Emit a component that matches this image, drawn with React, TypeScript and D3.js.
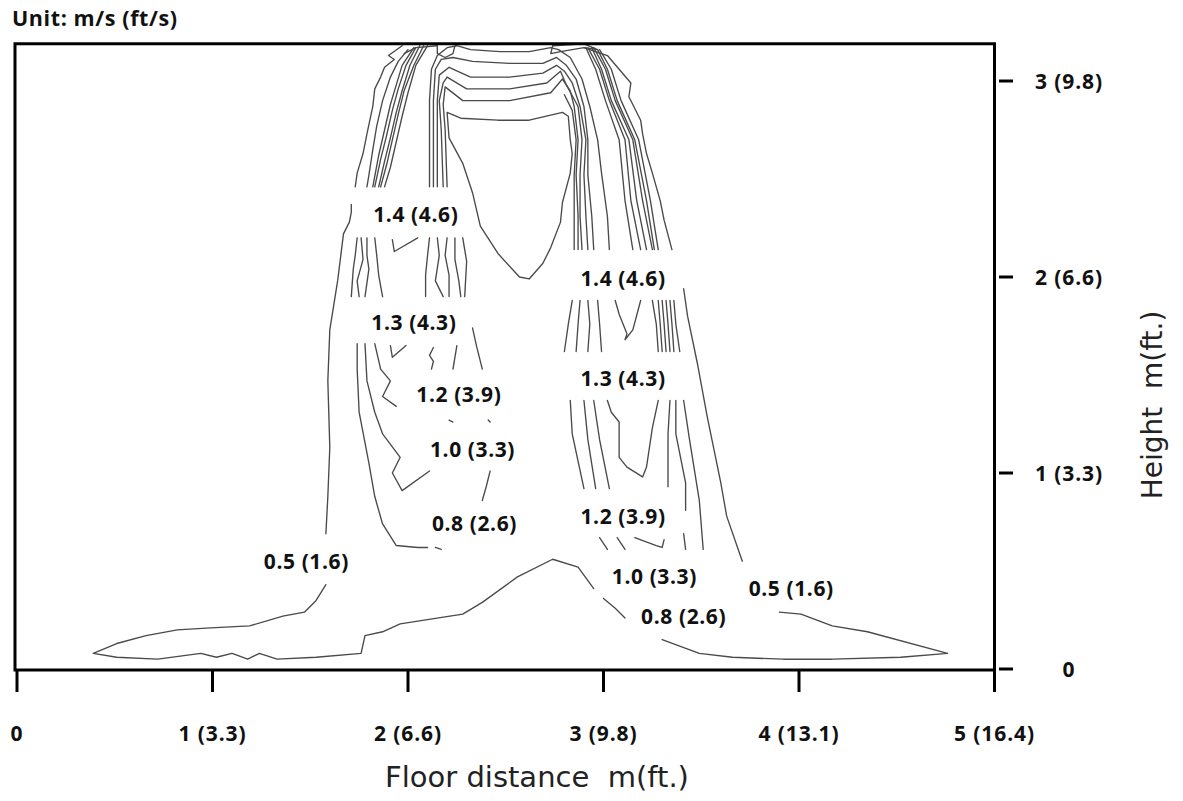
import React from 'react';
import * as d3 from 'd3';

type Pt = [number, number];
type Seg = Pt[];

// Axis ticks (floor distance m (ft), height m (ft))
const xTickValues = [0, 1, 2, 3, 4, 5];
const xTickLabels = ['0', '1 (3.3)', '2 (6.6)', '3 (9.8)', '4 (13.1)', '5 (16.4)'];
const yTickValues = [0, 1, 2, 3];
const yTickLabels = ['0', '1 (3.3)', '2 (6.6)', '3 (9.8)'];
const roomHeight = 3.19;

// Contour labels: velocity m/s (ft/s) at [x m, y m]
const contourLabels: { text: string; x: number; y: number }[] = [
  { text: '1.4 (4.6)', x: 2.04, y: 2.32 },
  { text: '1.4 (4.6)', x: 3.10, y: 1.99 },
  { text: '1.3 (4.3)', x: 2.03, y: 1.77 },
  { text: '1.3 (4.3)', x: 3.10, y: 1.48 },
  { text: '1.2 (3.9)', x: 2.26, y: 1.40 },
  { text: '1.2 (3.9)', x: 3.10, y: 0.78 },
  { text: '1.0 (3.3)', x: 2.33, y: 1.12 },
  { text: '1.0 (3.3)', x: 3.26, y: 0.47 },
  { text: '0.8 (2.6)', x: 2.34, y: 0.74 },
  { text: '0.8 (2.6)', x: 3.41, y: 0.27 },
  { text: '0.5 (1.6)', x: 1.48, y: 0.55 },
  { text: '0.5 (1.6)', x: 3.96, y: 0.41 },
];

// 0.5 m/s envelope
const outerContour: Seg[] = [
  [[1.97,3.18],[1.90,3.13],[1.93,3.11],[1.88,3.07],[1.86,3.02],[1.83,2.96],[1.82,2.87],[1.79,2.73],[1.77,2.63],[1.74,2.53],[1.73,2.46]],
  [[1.71,2.37],[1.71,2.33],[1.70,2.28],[1.67,2.22],[1.64,1.98],[1.60,1.73],[1.59,1.47],[1.60,1.13],[1.59,0.88],[1.58,0.69]],
  [[1.58,0.43],[1.53,0.35],[1.47,0.29],[1.36,0.27],[1.19,0.22],[0.99,0.21],[0.82,0.20],[0.66,0.17],[0.51,0.13],[0.39,0.08],[0.51,0.06],[0.72,0.05],[0.94,0.08],[1.02,0.06],[1.10,0.08],[1.18,0.05],[1.24,0.08],[1.33,0.05],[1.53,0.06],[1.76,0.08],[1.78,0.17],[1.87,0.19],[1.96,0.23],[2.28,0.28],[2.38,0.34],[2.56,0.47],[2.74,0.56],[2.87,0.52],[2.95,0.41]],
  [[3.00,0.36],[3.06,0.31],[3.11,0.26]],
  [[3.30,0.15],[3.49,0.08],[3.66,0.06],[3.92,0.05],[4.17,0.05],[4.52,0.06],[4.76,0.08],[4.35,0.19],[4.17,0.22],[4.01,0.28],[3.90,0.29]],
  [[3.71,0.55],[3.63,0.78],[3.60,0.95],[3.53,1.29],[3.48,1.56],[3.43,1.80],[3.41,1.94]],
  [[3.35,2.14],[3.31,2.29],[3.29,2.39],[3.25,2.53],[3.22,2.63],[3.20,2.73],[3.19,2.80],[3.13,2.92],[3.14,2.99],[3.08,3.06],[3.02,3.13],[2.90,3.17]],
];

// Left jet, outer side, upper part
const leftJetUpper: Seg[] = [
  [[2.00,3.16],[1.95,3.10],[1.91,3.02],[1.87,2.90],[1.84,2.77],[1.82,2.65],[1.80,2.52],[1.79,2.46]],
  [[2.03,3.17],[1.97,3.08],[1.94,2.98],[1.91,2.88],[1.88,2.75],[1.85,2.62],[1.82,2.46]],
  [[2.04,3.17],[1.99,3.08],[1.95,2.96],[1.92,2.85],[1.89,2.72],[1.86,2.60],[1.83,2.46]],
  [[2.06,3.18],[2.01,3.08],[1.97,2.95],[1.94,2.84],[1.91,2.71],[1.88,2.59],[1.85,2.46]],
  [[2.08,3.18],[2.03,3.08],[1.98,2.95],[1.95,2.83],[1.92,2.70],[1.89,2.57],[1.86,2.46]],
  [[2.10,3.18],[2.04,3.08],[2.00,2.94],[1.97,2.82],[1.94,2.69],[1.91,2.56],[1.88,2.46]],
];

// Left jet between the 1.4 and 1.3 labels
const leftJetMiddle: Seg[] = [
  [[1.74,2.20],[1.73,2.11],[1.72,2.04],[1.71,1.90]],
  [[1.76,2.20],[1.77,2.09],[1.74,1.98],[1.75,1.90]],
  [[1.79,2.20],[1.79,2.11],[1.80,2.04],[1.78,1.90]],
  [[1.83,2.20],[1.84,2.11],[1.85,2.01],[1.87,1.90]],
  [[1.92,2.19],[1.93,2.13],[2.05,2.20]],
  [[2.11,2.20],[2.10,2.11],[2.09,2.01],[2.09,1.90]],
  [[2.15,2.20],[2.16,2.11],[2.14,1.98],[2.18,1.90]],
  [[2.20,2.20],[2.19,2.11],[2.21,2.01],[2.21,1.90]],
  [[2.24,2.20],[2.24,2.09],[2.26,1.98],[2.27,1.90]],
  [[2.28,2.20],[2.30,2.08],[2.29,1.90]],
];

// Left jet below the 1.3 label
const leftJetLower: Seg[] = [
  [[1.74,1.66],[1.74,1.53],[1.75,1.31],[1.80,1.05],[1.83,0.88],[1.87,0.74],[1.94,0.63],[2.05,0.62],[2.10,0.62]],
  [[2.14,0.62],[2.17,0.61]],
  [[1.78,1.66],[1.79,1.47],[1.83,1.31],[1.87,1.20],[1.96,1.08],[1.92,1.00],[1.97,0.91],[2.11,1.01]],
  [[1.83,1.66],[1.86,1.53],[1.91,1.47],[1.87,1.39],[1.94,1.34]],
  [[1.91,1.65],[1.92,1.59],[1.99,1.65]],
  [[2.13,1.64],[2.11,1.60],[2.13,1.57],[2.12,1.53]],
  [[2.25,1.65],[2.24,1.59],[2.23,1.53]],
  [[2.33,1.74],[2.35,1.65],[2.38,1.53]],
  [[2.21,1.27],[2.23,1.26]],
  [[2.41,1.27],[2.42,1.26]],
  [[2.42,1.01],[2.40,0.93],[2.38,0.86]],
];

// Contours bridging both jets over the central zone
const bridgeContours: Seg[] = [
  [[2.11,2.46],[2.11,2.75],[2.11,2.90],[2.12,3.06],[2.15,3.13],[2.20,3.17],[2.25,3.18],[2.32,3.16],[2.47,3.15],[2.62,3.15],[2.73,3.17],[2.77,3.16],[2.83,3.12],[2.89,3.01],[2.93,2.87],[2.97,2.70],[2.99,2.53],[3.02,2.31],[3.03,2.14]],
  [[2.13,2.46],[2.13,2.75],[2.13,2.90],[2.14,3.06],[2.17,3.11],[2.23,3.12],[2.33,3.10],[2.52,3.09],[2.69,3.09],[2.76,3.12],[2.81,3.08],[2.86,3.01],[2.90,2.87],[2.92,2.70],[2.92,2.52],[2.94,2.31],[2.95,2.14]],
  [[2.15,2.46],[2.15,2.75],[2.15,2.90],[2.16,3.03],[2.21,3.07],[2.32,3.02],[2.52,3.02],[2.69,3.04],[2.76,3.08],[2.80,3.05],[2.84,2.99],[2.88,2.87],[2.91,2.70],[2.90,2.52],[2.91,2.31],[2.92,2.14]],
  [[2.18,2.46],[2.17,2.75],[2.16,2.90],[2.18,2.99],[2.20,3.02],[2.30,2.96],[2.52,2.96],[2.71,2.99],[2.78,3.05],[2.81,2.98],[2.87,2.87],[2.89,2.70],[2.88,2.52],[2.88,2.31],[2.89,2.14]],
  [[2.20,2.46],[2.19,2.75],[2.18,2.88],[2.19,2.97],[2.28,2.90],[2.52,2.90],[2.73,2.94],[2.79,3.01],[2.83,2.95],[2.85,2.87],[2.87,2.70],[2.86,2.52],[2.87,2.31],[2.87,2.14]],
  [[2.80,2.93],[2.84,2.85],[2.86,2.70],[2.85,2.52],[2.85,2.31],[2.85,2.14]],
];

// Right jet, inner side below the 1.4 label
const rightJetInner: Seg[] = [
  [[2.97,1.88],[2.98,1.76],[2.99,1.62]],
  [[2.92,1.88],[2.93,1.76],[2.92,1.62]],
  [[2.88,1.88],[2.87,1.76],[2.86,1.62]],
  [[2.84,1.88],[2.82,1.76],[2.80,1.62]],
  [[2.95,1.37],[2.98,1.17],[3.03,0.92]],
  [[2.90,1.37],[2.92,1.17],[2.96,0.92]],
  [[2.83,1.37],[2.84,1.20],[2.90,0.92]],
  [[3.06,1.88],[3.08,1.81],[3.12,1.71],[3.11,1.68],[3.15,1.73],[3.19,1.88]],
  [[3.02,1.37],[3.04,1.31],[3.08,1.26],[3.08,1.17],[3.08,1.08],[3.12,1.03],[3.20,0.98],[3.22,1.03],[3.25,1.23],[3.28,1.37]],
];

// Right jet, outer side
const rightJetOuter: Seg[] = [
  [[2.91,3.17],[2.96,3.06],[3.01,2.90],[3.08,2.70],[3.11,2.39],[3.15,2.14]],
  [[2.92,3.17],[2.98,3.06],[3.03,2.90],[3.11,2.70],[3.14,2.39],[3.19,2.14]],
  [[2.94,3.17],[2.99,3.06],[3.04,2.90],[3.13,2.70],[3.17,2.39],[3.22,2.14]],
  [[2.95,3.17],[3.01,3.06],[3.06,2.90],[3.15,2.70],[3.20,2.39],[3.25,2.14]],
  [[2.97,3.16],[3.02,3.06],[3.07,2.90],[3.16,2.70],[3.22,2.39],[3.26,2.14]],
  [[2.98,3.16],[3.04,3.06],[3.09,2.90],[3.18,2.70],[3.24,2.39],[3.28,2.14]],
  [[3.25,1.88],[3.27,1.76],[3.28,1.62]],
  [[3.28,1.88],[3.29,1.76],[3.30,1.62]],
  [[3.30,1.88],[3.31,1.76],[3.32,1.62]],
  [[3.32,1.88],[3.33,1.76],[3.34,1.62]],
  [[3.34,1.88],[3.35,1.76],[3.36,1.62]],
  [[3.36,1.88],[3.37,1.76],[3.39,1.62]],
];

// Right jet lower fragments
const rightJetLower: Seg[] = [
  [[3.34,1.37],[3.33,1.20],[3.33,0.93]],
  [[3.37,1.37],[3.37,1.20],[3.42,0.95],[3.42,0.81]],
  [[3.41,0.69],[3.42,0.61]],
  [[3.41,1.37],[3.44,1.17],[3.49,0.86],[3.51,0.61]],
  [[2.98,0.67],[3.02,0.61]],
  [[3.07,0.67],[3.11,0.61]],
  [[3.16,0.67],[3.27,0.63],[3.30,0.62],[3.31,0.66]],
];

// Central low-velocity core between the jets
const centralCore: Seg[] = [
  [[2.20,2.84],[2.27,2.81],[2.46,2.80],[2.62,2.80],[2.79,2.84],[2.82,2.82],[2.83,2.70],[2.84,2.63],[2.83,2.53],[2.79,2.38],[2.78,2.28],[2.73,2.15],[2.69,2.07],[2.62,1.99],[2.57,2.00],[2.46,2.12],[2.37,2.26],[2.33,2.43],[2.28,2.58],[2.21,2.71],[2.20,2.84]],
];

// Diffuser outlets at the ceiling
const diffusers: Seg[] = [
  [[2.15,3.18],[2.15,3.14],[2.19,3.12],[2.23,3.14],[2.24,3.18]],
  [[1.98,3.14],[2.04,3.17],[2.15,3.18]],
  [[2.73,3.14],[2.74,3.18],[2.90,3.19],[2.97,3.16],[2.90,3.17],[2.78,3.15],[2.73,3.14]],
];

const W = 1183;
const H = 801;
const x = d3.scaleLinear().domain([0, 5]).range([17, 994.5]);
const y = d3.scaleLinear().domain([0, 3]).range([669, 81]);

export default function App() {
  const line = d3.line<Pt>().x((d) => x(d[0])).y((d) => y(d[1]));
  const segments: Seg[] = [
    ...outerContour,
    ...leftJetUpper,
    ...leftJetMiddle,
    ...leftJetLower,
    ...bridgeContours,
    ...rightJetInner,
    ...rightJetOuter,
    ...rightJetLower,
    ...centralCore,
    ...diffusers,
  ];
  const bold = { fontFamily: '"Open Sans", sans-serif', fontWeight: 700 } as const;
  const frameLeft = x(0) - 2;
  const frameRight = x(5);
  const frameTop = y(roomHeight);
  const frameBottom = y(0) + 1;
  return (
    <svg width={W} height={H} style={{ position: 'absolute', left: 0, top: 0, background: '#fff' }}>
      <rect width={W} height={H} fill="#fff" />
      <g>
        {segments.map((s, i) => (
          <path key={i} d={line(s) || ''} fill="none" stroke="#4a4a4a" strokeWidth={1.35} strokeLinejoin="round" strokeLinecap="round" />
        ))}
      </g>
      <g>
        {contourLabels.map((l, i) => (
          <text key={i} x={x(l.x)} y={y(l.y) + 7.5} textAnchor="middle" fontSize={21} letterSpacing={0.6} fill="#111"
            stroke="#fff" strokeWidth={3} paintOrder="stroke" style={bold}>{l.text}</text>
        ))}
      </g>
      <rect x={frameLeft} y={frameTop} width={frameRight - frameLeft} height={frameBottom - frameTop} fill="none" stroke="#000" strokeWidth={3} />
      {xTickValues.map((v, i) => (
        <g key={i}>
          <line x1={x(v)} x2={x(v)} y1={frameBottom} y2={frameBottom + 22} stroke="#000" strokeWidth={3} />
          <text x={x(v)} y={741} textAnchor="middle" fontSize={21} letterSpacing={0.9} fill="#111" style={bold}>{xTickLabels[i]}</text>
        </g>
      ))}
      {yTickValues.map((v, i) => (
        <g key={i}>
          <line x1={999} x2={1013} y1={y(v)} y2={y(v)} stroke="#000" strokeWidth={3} />
          <text x={1069} y={y(v) + 7.5} textAnchor="middle" fontSize={21} letterSpacing={0.9} fill="#111" style={bold}>{yTickLabels[i]}</text>
        </g>
      ))}
      <text x={12} y={26} fontSize={21.5} letterSpacing={0.6} fill="#111" style={bold}>Unit: m/s (ft/s)</text>
      <text x={537} y={787} textAnchor="middle" fontSize={29} fill="#222"
        style={{ fontFamily: '"DejaVu Sans", sans-serif', whiteSpace: 'pre' }}>{'Floor distance  m(ft.)'}</text>
      <text transform="translate(1162,405) rotate(-90)" textAnchor="middle" fontSize={28} fill="#222"
        style={{ fontFamily: '"DejaVu Sans", sans-serif', whiteSpace: 'pre' }}>{'Height  m(ft.)'}</text>
    </svg>
  );
}
